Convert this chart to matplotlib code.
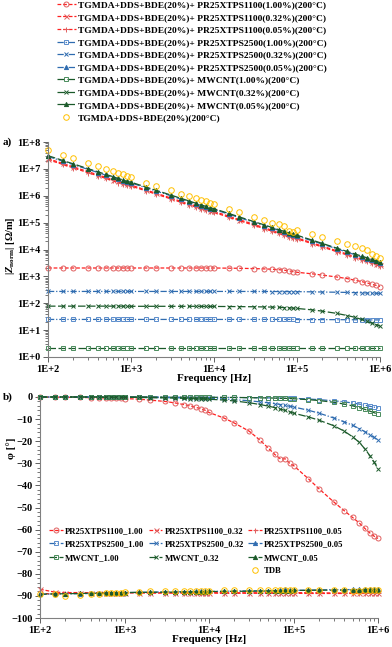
import matplotlib
matplotlib.use("Agg")
import matplotlib.pyplot as plt
from matplotlib.ticker import LogLocator, FixedLocator, MultipleLocator, NullFormatter
from matplotlib.lines import Line2D

plt.rcParams['font.family'] = ['Liberation Serif', 'DejaVu Serif']
plt.rcParams['font.weight'] = 'bold'
plt.rcParams['mathtext.fontset'] = 'custom'
plt.rcParams['mathtext.rm'] = 'Liberation Serif:bold'
plt.rcParams['mathtext.it'] = 'Liberation Serif:italic:bold'
plt.rcParams['mathtext.bf'] = 'Liberation Serif:bold'

# ---------------- data ----------------
FREQ = [100, 150, 200, 300, 400, 500, 600, 700, 800, 900,
        1e3, 1.5e3, 2e3, 3e3, 4e3, 5e3, 6e3, 7e3, 8e3, 9e3,
        1e4, 1.5e4, 2e4, 3e4, 4e4, 5e4, 6e4, 7e4, 8e4, 9e4,
        1e5, 1.5e5, 2e5, 3e5, 4e5, 5e5, 6e5, 7e5, 8e5, 9e5,
        1e6]

# |Z_norm| [Ohm/m]
Z_1100_100 = [2050, 2050, 2050, 2050, 2050, 2050, 2050, 2050, 2050, 2050,
              2050, 2050, 2050, 2050, 2050, 2050, 2050, 2050, 2050, 2050,
              2050, 2020, 2000, 1950, 1900, 1850, 1780, 1700, 1600, 1500,
              1420, 1250, 1120, 950, 830, 720, 640, 570, 510, 460,
              420]
Z_1100_032 = [2.4e7, 1.6e7, 1.2e7, 8.0e6, 6.0e6, 4.8e6, 4.0e6, 3.4e6, 3.0e6, 2.7e6,
              2.5e6, 1.65e6, 1.25e6, 8.3e5, 6.2e5, 5.0e5, 4.2e5, 3.6e5, 3.1e5, 2.8e5,
              2.6e5, 1.75e5, 1.3e5, 8.7e4, 6.5e4, 5.2e4, 4.3e4, 3.7e4, 3.3e4, 2.9e4,
              2.7e4, 1.8e4, 1.35e4, 9.0e3, 6.8e3, 5.4e3, 4.5e3, 3.9e3, 3.4e3, 3.0e3,
              2.7e3]
Z_1100_005 = [2.2e7, 1.47e7, 1.1e7, 7.3e6, 5.5e6, 4.4e6, 3.7e6, 3.1e6, 2.75e6, 2.45e6,
              2.3e6, 1.53e6, 1.15e6, 7.7e5, 5.7e5, 4.6e5, 3.8e5, 3.3e5, 2.9e5, 2.6e5,
              2.4e5, 1.6e5, 1.2e5, 8.0e4, 6.0e4, 4.8e4, 4.0e4, 3.4e4, 3.0e4, 2.7e4,
              2.5e4, 1.67e4, 1.25e4, 8.3e3, 6.3e3, 5.0e3, 4.2e3, 3.6e3, 3.1e3, 2.8e3,
              2.5e3]
Z_2500_100 = [25, 25, 25, 25, 25, 25, 25, 25, 25, 25,
              25, 25, 25, 25, 25, 25, 25, 25, 25, 25,
              25, 25, 25, 25, 25, 25, 25, 25, 25, 25,
              24.8, 24.7, 24.6, 24.5, 24.4, 24.3, 24.2, 24.1, 24.0, 24.0,
              24.0]
Z_2500_032 = [275, 275, 275, 275, 275, 275, 275, 275, 275, 275,
              275, 275, 275, 275, 275, 275, 275, 275, 275, 275,
              275, 275, 275, 274, 274, 273, 273, 272, 271, 271,
              270, 266, 262, 257, 253, 249, 245, 241, 238, 236,
              234]
Z_2500_005 = [2.9e7, 1.93e7, 1.45e7, 9.7e6, 7.3e6, 5.8e6, 4.8e6, 4.1e6, 3.6e6, 3.2e6,
              3.0e6, 2.0e6, 1.5e6, 1.0e6, 7.5e5, 6.0e5, 5.0e5, 4.3e5, 3.75e5, 3.3e5,
              3.1e5, 2.07e5, 1.55e5, 1.03e5, 7.8e4, 6.2e4, 5.2e4, 4.4e4, 3.9e4, 3.4e4,
              3.2e4, 2.13e4, 1.6e4, 1.07e4, 8.0e3, 6.4e3, 5.3e3, 4.6e3, 4.0e3, 3.6e3,
              3.2e3]
Z_MW_100 = [2.2, 2.2, 2.2, 2.2, 2.2, 2.2, 2.2, 2.2, 2.2, 2.2,
            2.2, 2.2, 2.2, 2.2, 2.2, 2.2, 2.2, 2.2, 2.2, 2.2,
            2.2, 2.2, 2.2, 2.2, 2.2, 2.2, 2.2, 2.2, 2.2, 2.2,
            2.2, 2.2, 2.2, 2.2, 2.2, 2.2, 2.2, 2.2, 2.2, 2.2,
            2.2]
Z_MW_032 = [78, 78, 78, 78, 78, 78, 78, 78, 78, 78,
            77, 77, 77, 77, 77, 77, 77, 77, 76, 76,
            76, 75.5, 75, 74, 73, 72, 71, 69, 67.5, 66,
            64, 57, 51, 42, 35, 30, 25, 21, 18, 16,
            14]
Z_MW_005 = [3.1e7, 2.07e7, 1.55e7, 1.03e7, 7.8e6, 6.2e6, 5.2e6, 4.4e6, 3.9e6, 3.4e6,
            3.2e6, 2.13e6, 1.6e6, 1.07e6, 8.0e5, 6.4e5, 5.3e5, 4.6e5, 4.0e5, 3.6e5,
            3.3e5, 2.2e5, 1.65e5, 1.1e5, 8.3e4, 6.6e4, 5.5e4, 4.7e4, 4.1e4, 3.7e4,
            3.4e4, 2.27e4, 1.7e4, 1.13e4, 8.5e3, 6.8e3, 5.7e3, 4.9e3, 4.3e3, 3.8e3,
            3.3e3]
Z_TDB = [4.9e7, 3.3e7, 2.5e7, 1.65e7, 1.25e7, 1.0e7, 8.4e6, 7.2e6, 6.3e6, 5.6e6,
         4.9e6, 3.1e6, 2.4e6, 1.6e6, 1.2e6, 9.7e5, 8.2e5, 7.0e5, 6.2e5, 5.5e5,
         4.8e5, 3.2e5, 2.4e5, 1.6e5, 1.25e5, 1.0e5, 8.6e4, 7.4e4, 5.0e4, 4.5e4,
         5.2e4, 3.9e4, 3.0e4, 2.0e4, 1.6e4, 1.35e4, 1.15e4, 9.5e3, 7.0e3, 5.5e3,
         4.9e3]

# phase [deg]
P_1100_100 = [0.0, -0.1, -0.1, -0.2, -0.3, -0.3, -0.4, -0.5, -0.5, -0.6,
              -0.7, -1.0, -1.4, -2.0, -2.7, -3.4, -4.0, -4.7, -5.3, -6.0,
              -7.0, -9.5, -11.8, -15.5, -19.5, -23.0, -26.0, -28.0, -28.0, -30.0,
              -31.0, -37.0, -41.5, -47.5, -51.5, -54.5, -57.0, -59.5, -61.5, -63.0,
              -64.0]
P_1100_032 = [-87.0, -88.3, -88.5, -88.5, -88.6, -88.6, -88.6, -88.6, -88.6, -88.6,
              -88.5, -88.6, -88.6, -88.6, -88.6, -88.6, -88.6, -88.6, -88.6, -88.6,
              -88.5, -88.6, -88.6, -88.6, -88.6, -88.6, -88.6, -88.6, -88.6, -88.6,
              -88.5, -88.6, -88.6, -88.7, -88.7, -88.7, -88.7, -88.7, -88.7, -88.7,
              -88.6]
P_1100_005 = [-89.0, -89.0, -88.9, -88.8, -88.8, -88.7, -88.7, -88.7, -88.7, -88.6,
              -88.6, -88.6, -88.7, -88.7, -88.7, -88.7, -88.7, -88.7, -88.7, -88.7,
              -88.7, -88.8, -88.8, -88.8, -88.8, -88.8, -88.8, -88.8, -88.8, -88.8,
              -88.8, -88.9, -88.9, -88.9, -88.9, -88.9, -88.9, -88.9, -88.8, -88.8,
              -88.8]
P_2500_100 = [0.0, 0.0, 0.0, 0.0, 0.0, 0.0, 0.0, 0.0, 0.0, 0.0,
              0.0, 0.0, 0.0, 0.0, -0.1, -0.1, -0.1, -0.1, -0.1, -0.1,
              -0.1, -0.2, -0.2, -0.3, -0.3, -0.4, -0.4, -0.5, -0.5, -0.6,
              -0.6, -0.9, -1.2, -1.7, -2.2, -2.7, -3.2, -3.7, -4.2, -4.6,
              -5.0]
P_2500_032 = [0.0, 0.0, 0.0, 0.0, 0.0, 0.0, 0.0, 0.0, -0.1, -0.1,
              -0.1, -0.15, -0.2, -0.3, -0.35, -0.4, -0.45, -0.5, -0.55, -0.6,
              -0.6, -0.9, -1.2, -1.7, -2.2, -2.6, -3.0, -3.4, -3.8, -4.2,
              -4.5, -6.0, -7.3, -9.5, -11.3, -12.8, -14.3, -15.7, -17.0, -18.3,
              -19.5]
P_2500_005 = [-89.3, -89.2, -89.1, -89.0, -88.9, -88.8, -88.8, -88.7, -88.7, -88.6,
              -88.5, -88.4, -88.3, -88.2, -88.2, -88.1, -88.1, -88.0, -88.0, -88.0,
              -88.0, -87.9, -87.8, -87.7, -87.7, -87.6, -87.6, -87.5, -87.0, -87.5,
              -87.5, -87.4, -87.3, -87.2, -87.2, -87.1, -87.1, -87.0, -87.0, -87.0,
              -87.0]
P_MW_100 = [0.0, 0.0, 0.0, 0.0, 0.0, 0.0, 0.0, 0.0, 0.0, 0.0,
            0.0, 0.0, 0.0, -0.1, -0.1, -0.1, -0.1, -0.1, -0.1, -0.1,
            -0.1, -0.2, -0.2, -0.3, -0.4, -0.4, -0.5, -0.6, -0.6, -0.7,
            -0.8, -1.2, -1.6, -2.4, -3.2, -4.0, -4.8, -5.6, -6.4, -7.1,
            -7.8]
P_MW_032 = [0.0, 0.0, 0.0, 0.0, 0.0, 0.0, -0.1, -0.1, -0.1, -0.1,
            -0.1, -0.2, -0.3, -0.4, -0.5, -0.6, -0.7, -0.8, -0.85, -0.9,
            -1.0, -1.4, -1.8, -2.6, -3.4, -4.1, -4.8, -5.5, -6.1, -6.7,
            -7.3, -9.0, -10.5, -13.0, -15.5, -18.0, -20.5, -23.5, -26.5, -29.5,
            -32.5]
P_MW_005 = [-89.2, -89.1, -89.0, -88.9, -88.8, -88.8, -88.7, -88.7, -88.6, -88.6,
            -88.5, -88.4, -88.4, -88.3, -88.3, -88.2, -88.2, -88.2, -88.1, -88.1,
            -88.0, -88.0, -87.9, -87.9, -87.8, -87.8, -87.7, -87.7, -87.6, -87.6,
            -87.5, -87.5, -87.4, -87.4, -87.4, -87.3, -87.3, -87.3, -87.3, -87.3,
            -87.3]
P_TDB = [-89.0, -89.3, -90.0, -89.5, -89.2, -89.0, -88.8, -88.7, -88.6, -88.5,
         -88.4, -88.3, -88.0, -88.0, -87.9, -87.8, -87.8, -87.7, -87.7, -87.6,
         -87.6, -87.5, -87.5, -87.5, -87.4, -87.4, -87.4, -87.3, -87.3, -87.2,
         -87.2, -87.3, -87.4, -87.5, -87.5, -87.6, -87.6, -87.5, -87.5, -87.4,
         -87.4]

LABELS_A = ["TGMDA+DDS+BDE(20%)+ PR25XTPS1100(1.00%)(200°C)",
            "TGMDA+DDS+BDE(20%)+ PR25XTPS1100(0.32%)(200°C)",
            "TGMDA+DDS+BDE(20%)+ PR25XTPS1100(0.05%)(200°C)",
            "TGMDA+DDS+BDE(20%)+ PR25XTPS2500(1.00%)(200°C)",
            "TGMDA+DDS+BDE(20%)+ PR25XTPS2500(0.32%)(200°C)",
            "TGMDA+DDS+BDE(20%)+ PR25XTPS2500(0.05%)(200°C)",
            "TGMDA+DDS+BDE(20%)+ MWCNT(1.00%)(200°C)",
            "TGMDA+DDS+BDE(20%)+ MWCNT(0.32%)(200°C)",
            "TGMDA+DDS+BDE(20%)+ MWCNT(0.05%)(200°C)",
            "TGMDA+DDS+BDE(20%)(200°C)"]
LABELS_B = ["PR25XTPS1100_1.00", "PR25XTPS1100_0.32", "PR25XTPS1100_0.05",
            "PR25XTPS2500_1.00", "PR25XTPS2500_0.32", "PR25XTPS2500_0.05",
            "MWCNT_1.00", "MWCNT_0.32", "MWCNT_0.05", "TDB"]
Z_SERIES = [Z_1100_100, Z_1100_032, Z_1100_005, Z_2500_100, Z_2500_032, Z_2500_005,
            Z_MW_100, Z_MW_032, Z_MW_005, Z_TDB]
P_SERIES = [P_1100_100, P_1100_032, P_1100_005, P_2500_100, P_2500_032, P_2500_005,
            P_MW_100, P_MW_032, P_MW_005, P_TDB]
X_TICKS = [1e2, 1e3, 1e4, 1e5, 1e6]
X_TICKLABELS = ["1E+2", "1E+3", "1E+4", "1E+5", "1E+6"]
Y_TICKS_A = [1e0, 1e1, 1e2, 1e3, 1e4, 1e5, 1e6, 1e7, 1e8]
Y_TICKLABELS_A = ["1E+0", "1E+1", "1E+2", "1E+3", "1E+4", "1E+5", "1E+6", "1E+7", "1E+8"]

# ---------------- styles ----------------
RED_L, RED_M = '#ff2020', '#e06060'
BLU_L, BLU_M = '#2f6cb0', '#5a8ccc'
GRN_L, GRN_M = '#1b5a2a', '#4a8c5c'
TDB_C = '#ffc000'
STYLES = [
    dict(color=RED_L, ls=(0, (3, 1.5)), marker='o', mec=RED_M, mfc='none', ms=3.6),
    dict(color=RED_L, ls=(0, (3, 1.5)), marker='x', mec=RED_M, mfc='none', ms=3.6),
    dict(color=RED_L, ls=(0, (3, 1.5)), marker='+', mec=RED_M, mfc='none', ms=3.6),
    dict(color=BLU_L, ls=(0, (5, 1.5, 1, 1.5)), marker='s', mec=BLU_M, mfc='none', ms=3.4),
    dict(color=BLU_L, ls=(0, (5, 1.5, 1, 1.5)), marker='x', mec=BLU_L, mfc='none', ms=3.4),
    dict(color=BLU_L, ls=(0, (5, 1.5, 1, 1.5)), marker='^', mec=BLU_L, mfc=BLU_L, ms=3.0),
    dict(color=GRN_L, ls=(0, (6, 2)), marker='s', mec=GRN_M, mfc='none', ms=3.4),
    dict(color=GRN_L, ls=(0, (6, 2)), marker='x', mec=GRN_L, mfc='none', ms=3.4),
    dict(color=GRN_L, ls=(0, (6, 2)), marker='^', mec=GRN_L, mfc=GRN_L, ms=3.0),
    dict(color=TDB_C, ls='none', marker='o', mec=TDB_C, mfc='none', ms=4.0),
]

W, H = 392, 647
fig = plt.figure(figsize=(W / 100, H / 100), dpi=100)

def frac_axes(l, t, r, b):
    return fig.add_axes([l / W, 1 - b / H, (r - l) / W, (b - t) / H])

axA = frac_axes(48, 142, 380, 357)
axB = frac_axes(40, 397, 378, 618)

handles = []
for ys, st in zip(Z_SERIES, STYLES):
    h, = axA.plot(FREQ, ys, lw=0.9, mew=0.7, clip_on=False, **st)
    handles.append(h)
for ys, st in zip(P_SERIES, STYLES):
    axB.plot(FREQ, ys, lw=0.9, mew=0.7, clip_on=False, **st)

TICKFS = 7.5
for ax in (axA, axB):
    ax.set_xscale('log')
    ax.set_xlim(1e2, 1e6)
    ax.xaxis.set_major_locator(FixedLocator(X_TICKS))
    ax.set_xticklabels(X_TICKLABELS)
    ax.xaxis.set_minor_locator(LogLocator(base=10, subs=range(2, 10), numticks=20))
    ax.xaxis.set_minor_formatter(NullFormatter())
    ax.spines['top'].set_visible(False)
    ax.spines['right'].set_visible(False)
    for s in ('left', 'bottom'):
        ax.spines[s].set_color('#808080')
        ax.spines[s].set_linewidth(0.8)
    ax.tick_params(which='major', direction='out', length=3.5, width=0.7, color='#606060',
                   labelsize=TICKFS, pad=2)
    ax.tick_params(which='minor', direction='out', length=2, width=0.6, color='#606060')
    ax.set_xlabel('Frequency [Hz]', fontsize=8, fontweight='bold', labelpad=0)

axA.set_yscale('log')
axA.set_ylim(1e0, 1e8)
axA.yaxis.set_major_locator(FixedLocator(Y_TICKS_A))
axA.set_yticklabels(Y_TICKLABELS_A)
axA.yaxis.set_minor_locator(LogLocator(base=10, subs=range(2, 10), numticks=20))
axA.yaxis.set_minor_formatter(NullFormatter())
axA.set_ylabel(r'$|Z_{\mathrm{norm}}|$ [Ω/m]', fontsize=7.5, fontweight='bold')
axA.yaxis.set_label_coords((17 - 48) / 332, 0.52)

axB.set_ylim(-100, 0)
axB.yaxis.set_major_locator(MultipleLocator(10))
axB.yaxis.set_minor_locator(MultipleLocator(2))
axB.set_ylabel('φ [°]', fontsize=8, fontweight='bold')
axB.yaxis.set_label_coords((16 - 40) / 338, 0.77)

fig.text(3 / W, 1 - 142 / H, 'a)', fontsize=8, fontweight='bold', va='center', ha='left')
fig.text(3 / W, 1 - 397 / H, 'b)', fontsize=8, fontweight='bold', va='center', ha='left')

# top legend (panel a)
fig.legend(handles, LABELS_A, loc='upper left', bbox_to_anchor=(57 / W, 1 - 0.5 / H),
           frameon=False, labelspacing=0.42, handlelength=2.0,
           handletextpad=0.25, borderpad=0.0, borderaxespad=0.0,
           prop={'weight': 'bold', 'size': 6.8})

# panel b legend (3 columns, TDB in last column)
blank = Line2D([], [], ls='none', marker=None)
order_h = [handles[0], handles[3], handles[6], blank,
           handles[1], handles[4], handles[7], blank,
           handles[2], handles[5], handles[8], handles[9]]
order_l = [LABELS_B[0], LABELS_B[3], LABELS_B[6], ' ',
           LABELS_B[1], LABELS_B[4], LABELS_B[7], ' ',
           LABELS_B[2], LABELS_B[5], LABELS_B[8], LABELS_B[9]]
axB.legend(order_h, order_l, ncol=3, loc='upper left',
           bbox_to_anchor=((49 - 40) / 338, 1 - (527 - 397) / 221),
           frameon=False, labelspacing=0.62, handlelength=1.6, handletextpad=0.25,
           columnspacing=0.5, borderpad=0.0, borderaxespad=0.0,
           prop={'weight': 'bold', 'size': 6.2})

fig.savefig('out.png', dpi=100)
